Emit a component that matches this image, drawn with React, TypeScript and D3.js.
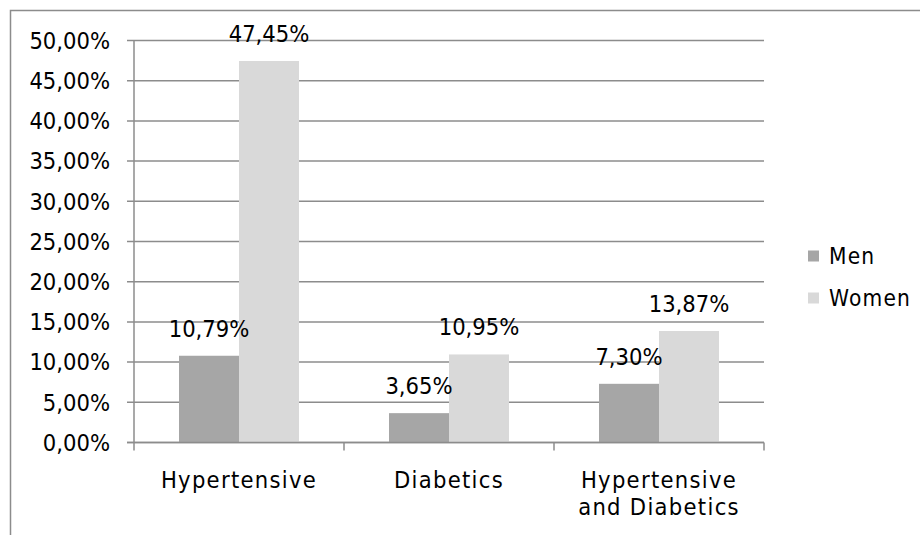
import React from "react";
import * as d3 from "d3";

// categories and series
const categories: string[][] = [["Hypertensive"], ["Diabetics"], ["Hypertensive", "and Diabetics"]];
const seriesNames = ["Men", "Women"];
const menValues = [10.79, 3.65, 7.3];
const womenValues = [47.45, 10.95, 13.87];
const yTicks = [0, 5, 10, 15, 20, 25, 30, 35, 40, 45, 50];

const colors = ["#a6a6a6", "#d9d9d9"];
const gridColor = "#8c8c8c";
const font = "'DejaVu Sans Condensed', 'DejaVu Sans', sans-serif";
const fontSize = 23.5;

const fmt = (v: number) => v.toFixed(2).replace(".", ",") + "%";

export default function App() {
  const width = 920, height = 535;
  const plot = { left: 134, right: 764, top: 40.5, bottom: 442.5 };

  const y = d3.scaleLinear().domain([0, 50]).range([plot.bottom, plot.top]);
  const x0 = d3.scaleBand<number>()
    .domain(categories.map((_, i) => i))
    .range([plot.left, plot.right])
    .paddingInner(0)
    .paddingOuter(0);
  const x1 = d3.scaleBand<number>()
    .domain([0, 1])
    .range([0, x0.bandwidth()])
    .paddingInner(0)
    .paddingOuter(0.75);

  const series = [menValues, womenValues];

  return (
    <div style={{ position: "absolute", left: 0, top: 0 }}>
      <svg width={width} height={height} style={{ display: "block", fontFamily: font }}>
        <rect x={0} y={0} width={width} height={height} fill="#fff" />
        {/* outer chart frame, cut off right and bottom */}
        <path d={`M10.5,${height + 2}V10.5H${width + 2}`} fill="none" stroke="#8c8c8c" strokeWidth={1.5} />

        {/* gridlines with tick stubs */}
        {yTicks.map((t) => (
          <g key={t}>
            <line x1={plot.left - 7} x2={plot.right} y1={y(t)} y2={y(t)} stroke={gridColor} strokeWidth={1.5} />
            <text x={110} y={y(t)} dy="0.35em" textAnchor="end" fontSize={fontSize} fill="#000">
              {fmt(t)}
            </text>
          </g>
        ))}

        {/* bars */}
        {series.map((vals, s) =>
          vals.map((v, i) => (
            <rect
              key={`${s}-${i}`}
              x={(x0(i) ?? 0) + (x1(s) ?? 0)}
              y={y(v)}
              width={x1.bandwidth()}
              height={y(0) - y(v)}
              fill={colors[s]}
            />
          ))
        )}

        {/* axes */}
        <line x1={plot.left} x2={plot.left} y1={plot.top} y2={plot.bottom + 8} stroke={gridColor} strokeWidth={1.5} />
        <line x1={plot.left - 7} x2={plot.right} y1={plot.bottom} y2={plot.bottom} stroke={gridColor} strokeWidth={1.5} />
        {categories.map((_, i) => (
          <line key={i} x1={(x0(i) ?? 0) + x0.bandwidth()} x2={(x0(i) ?? 0) + x0.bandwidth()} y1={plot.bottom} y2={plot.bottom + 8} stroke={gridColor} strokeWidth={1.5} />
        ))}

        {/* value labels */}
        {series.map((vals, s) =>
          vals.map((v, i) => (
            <text
              key={`l${s}-${i}`}
              x={(x0(i) ?? 0) + (x1(s) ?? 0) + x1.bandwidth() / 2}
              y={y(v) - 19}
              textAnchor="middle"
              fontSize={fontSize}
              fill="#000"
            >
              {fmt(v)}
            </text>
          ))
        )}

        {/* category labels */}
        {categories.map((lines, i) => (
          <text key={i} x={(x0(i) ?? 0) + x0.bandwidth() / 2} y={488} textAnchor="middle" fontSize={fontSize} letterSpacing={1.3} fill="#000">
            {lines.map((ln, j) => (
              <tspan key={j} x={(x0(i) ?? 0) + x0.bandwidth() / 2} dy={j === 0 ? 0 : 27}>{ln}</tspan>
            ))}
          </text>
        ))}

        {/* legend */}
        {seriesNames.map((name, s) => (
          <g key={name} transform={`translate(808,${256 + s * 42})`}>
            <rect x={0} y={-5.5} width={11} height={11} fill={colors[s]} />
            <text x={21} y={0} dy="0.35em" fontSize={fontSize - 1} letterSpacing={1.2} fill="#000">{name}</text>
          </g>
        ))}
      </svg>
    </div>
  );
}
